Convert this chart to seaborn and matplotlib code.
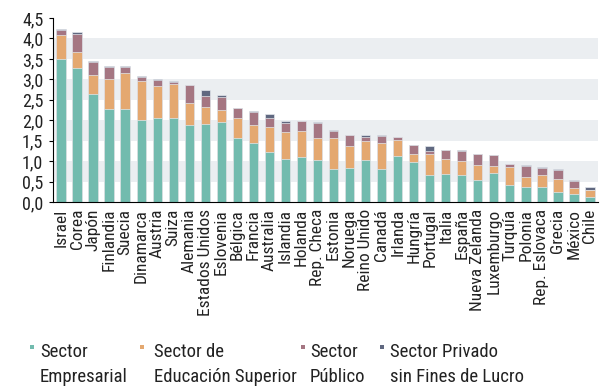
import matplotlib
matplotlib.use("Agg")
import matplotlib.pyplot as plt
from matplotlib import font_manager as fm
from matplotlib.patches import Rectangle
from matplotlib.ticker import FuncFormatter, FixedLocator
import numpy as np
import pandas as pd
import seaborn as sns

countries = ["Israel", "Corea", "Japón", "Finlandia", "Suecia", "Dinamarca", "Austria",
             "Suiza", "Alemania", "Estados Unidos", "Eslovenia", "Bélgica", "Francia",
             "Australia", "Islandia", "Holanda", "Rep. Checa", "Estonia", "Noruega",
             "Reino Unido", "Canadá", "Irlanda", "Hungría", "Portugal", "Italia",
             "España", "Nueva Zelanda", "Luxemburgo", "Turquía", "Polonia",
             "Rep. Eslovaca", "Grecia", "México", "Chile"]

empresarial = [3.49, 3.27, 2.63, 2.28, 2.28, 2.00, 2.06, 2.06, 1.88, 1.91, 1.96, 1.56,
               1.45, 1.23, 1.06, 1.09, 1.03, 0.81, 0.84, 1.03, 0.81, 1.12, 0.99, 0.65,
               0.68, 0.65, 0.54, 0.70, 0.42, 0.37, 0.37, 0.25, 0.20, 0.12]
educacion = [0.59, 0.40, 0.47, 0.73, 0.88, 0.97, 0.78, 0.83, 0.53, 0.41, 0.29, 0.50,
             0.44, 0.61, 0.64, 0.65, 0.54, 0.75, 0.54, 0.45, 0.64, 0.39, 0.19, 0.53,
             0.36, 0.36, 0.36, 0.17, 0.43, 0.25, 0.28, 0.31, 0.15, 0.17]
publico = [0.12, 0.43, 0.33, 0.29, 0.15, 0.08, 0.14, 0.04, 0.44, 0.28, 0.32, 0.23,
           0.30, 0.22, 0.24, 0.24, 0.36, 0.17, 0.26, 0.12, 0.17, 0.08, 0.21, 0.07,
           0.22, 0.24, 0.27, 0.27, 0.07, 0.27, 0.19, 0.23, 0.16, 0.01]
privado_sfl = [0.02, 0.06, 0.03, 0.03, 0.02, 0.02, 0.02, 0.04, 0.00, 0.13, 0.04, 0.02,
               0.03, 0.08, 0.03, 0.00, 0.02, 0.03, 0.01, 0.03, 0.02, 0.01, 0.00, 0.12,
               0.01, 0.01, 0.00, 0.00, 0.00, 0.01, 0.01, 0.02, 0.02, 0.07]

series_labels = [("Sector", "Empresarial"), ("Sector de", "Educación Superior"),
                 ("Sector", "Público"), ("Sector Privado", "sin Fines de Lucro")]
colors = ["#72BBAE", "#E4A870", "#A57682", "#606880"]

sns.set_style("white")

# prefer a condensed face when one is installed, otherwise shrink Roboto to fit
installed = {f.name for f in fm.fontManager.ttflist}
narrow = next((n for n in ["Roboto Condensed", "Liberation Sans Narrow",
                           "Open Sans Condensed"] if n in installed), None)
if narrow:
    plt.rcParams["font.family"] = [narrow, "DejaVu Sans"]
    x_size, y_size, leg_size = 12.5, 13, 13.5
else:
    plt.rcParams["font.family"] = ["Roboto", "DejaVu Sans"]
    x_size, y_size, leg_size = 10.2, 12.5, 11.8

df = pd.DataFrame({"pais": countries, "s0": empresarial, "s1": educacion,
                   "s2": publico, "s3": privado_sfl})
stack = df[["s0", "s1", "s2", "s3"]].cumsum(axis=1)

fig, ax = plt.subplots(figsize=(6, 3.9), dpi=100)
ax.set_position([53 / 600, 1 - 202 / 390, 545 / 600, 184 / 390])

# alternating horizontal bands
for lo in (0.5, 1.5, 2.5, 3.5):
    ax.axhspan(lo, lo + 0.5, color="#EBEEF1", zorder=0, lw=0)

# stacked bars: draw cumulative totals from the top series down
for i in range(3, -1, -1):
    sns.barplot(x=df["pais"], y=stack[f"s{i}"], order=countries, color=colors[i],
                width=0.58, edgecolor="#E3E7EC", linewidth=0.5, saturation=1,
                ax=ax, zorder=2)

ax.set_xlim(-0.5, len(countries) - 0.5)
ax.set_ylim(0, 4.5)
ax.set_yticks(np.arange(0, 4.51, 0.5))
ax.yaxis.set_major_formatter(FuncFormatter(lambda v, p: f"{v:.1f}".replace(".", ",")))
ax.set_xlabel("")
ax.set_ylabel("")

ax.set_xticks(range(len(countries)))
ax.set_xticklabels(countries, rotation=90)
ax.xaxis.set_minor_locator(FixedLocator(np.arange(-0.5, len(countries), 1.0)))
ax.tick_params(axis="x", which="major", length=0, pad=5, labelsize=x_size, colors="#222222")
ax.tick_params(axis="x", which="minor", length=3, width=0.8, color="black", direction="out")
ax.tick_params(axis="y", length=3, width=0.8, color="black", direction="out", pad=4,
               labelsize=y_size, left=True, labelcolor="#222222")

for side in ("top", "right"):
    ax.spines[side].set_visible(False)
for side in ("left", "bottom"):
    ax.spines[side].set_color("black")
    ax.spines[side].set_linewidth(0.8)

# legend below the chart, two lines per entry
marker_x = [30, 140, 301, 380]
text_x = [40, 154, 310, 390]
for mx, tx, (l1, l2), col in zip(marker_x, text_x, series_labels, colors):
    fig.add_artist(Rectangle((mx / 600, 1 - 349 / 390), 4 / 600, 4 / 390,
                             transform=fig.transFigure, color=col, lw=0))
    fig.text(tx / 600, 1 - 357 / 390, l1, fontsize=leg_size, va="baseline", ha="left",
             color="#222222")
    fig.text(tx / 600, 1 - 382 / 390, l2, fontsize=leg_size, va="baseline", ha="left",
             color="#222222")

fig.savefig("out.png", dpi=100)
